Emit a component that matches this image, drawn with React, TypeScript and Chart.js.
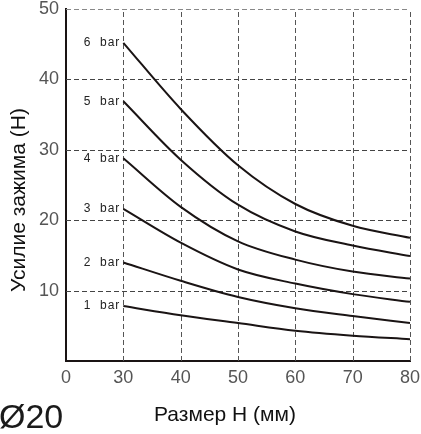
import React, { useEffect, useRef } from "react";
import { Chart, registerables } from "chart.js";

Chart.register(...registerables);

const sizes = [30, 40, 50, 60, 70, 80];
const xTicks = [20, 30, 40, 50, 60, 70, 80];
const xTickLabels = ["0", "30", "40", "50", "60", "70", "80"];
const yTicks = [10, 20, 30, 40, 50];
const bar6 = [45.2, 35.8, 27.8, 22.3, 19.2, 17.5];
const bar5 = [36.9, 28.6, 22.2, 18.4, 16.4, 14.9];
const bar4 = [28.8, 21.9, 17.0, 14.4, 12.7, 11.7];
const bar3 = [21.6, 16.8, 13.0, 11.0, 9.5, 8.4];
const bar2 = [14.0, 11.4, 9.1, 7.5, 6.4, 5.4];
const bar1 = [7.8, 6.5, 5.4, 4.3, 3.6, 3.1];
const seriesLabels = ["6  bar", "5  bar", "4  bar", "3  bar", "2  bar", "1  bar"];
const seriesValues = [bar6, bar5, bar4, bar3, bar2, bar1];
const xTitle = "Размер H (мм)";
const yTitle = "Усилие зажима (H)";
const caption = "Ø20";

const gridPlugin = {
  id: "gridPlugin",
  beforeDatasetsDraw(chart: any) {
    const ctx = chart.ctx;
    const xs = chart.scales.x;
    const ys = chart.scales.y;
    const a = chart.chartArea;
    ctx.save();
    ctx.lineWidth = 1;
    ctx.setLineDash([5, 3]);
    xTicks.slice(1).forEach((v) => {
      const px = Math.round(xs.getPixelForValue(v)) + 0.5;
      ctx.strokeStyle = "#555";
      ctx.beginPath();
      ctx.moveTo(px, a.bottom);
      ctx.lineTo(px, a.top);
      ctx.stroke();
    });
    yTicks.forEach((v) => {
      const py = Math.round(ys.getPixelForValue(v)) + 0.5;
      ctx.strokeStyle = v === 50 ? "#888" : "#444";
      ctx.beginPath();
      ctx.moveTo(a.left, py);
      ctx.lineTo(a.right, py);
      ctx.stroke();
    });
    ctx.restore();
  },
  afterDraw(chart: any) {
    const ctx = chart.ctx;
    const xs = chart.scales.x;
    const ys = chart.scales.y;
    ctx.save();
    ctx.fillStyle = "#222";
    ctx.font = "12px 'Liberation Sans', Arial, sans-serif";
    ctx.textAlign = "right";
    ctx.textBaseline = "middle";
    try { (ctx as any).letterSpacing = "1px"; } catch (e) {}
    chart.data.datasets.forEach((ds: any) => {
      const p = ds.data[0];
      ctx.fillText(ds.label, xs.getPixelForValue(p.x) - 3, ys.getPixelForValue(p.y));
    });
    try { (ctx as any).letterSpacing = "0px"; } catch (e) {}
    ctx.fillStyle = "#111";
    ctx.font = "21px 'Liberation Sans', Arial, sans-serif";
    ctx.textAlign = "center";
    ctx.textBaseline = "middle";
    ctx.save();
    ctx.translate(19, 200);
    ctx.rotate(-Math.PI / 2);
    ctx.fillText(yTitle, 0, 0);
    ctx.restore();
    ctx.fillText(xTitle, 225, 415);
    ctx.font = "34px 'Liberation Sans', Arial, sans-serif";
    ctx.textAlign = "left";
    ctx.textBaseline = "alphabetic";
    ctx.fillStyle = "#1a1a1a";
    ctx.fillText(caption, -1, 428);
    ctx.restore();
  },
};

export default function App() {
  const ref = useRef<HTMLCanvasElement>(null);
  useEffect(() => {
    document.body.style.margin = "0";
    const canvas = ref.current!;
    const tickFont = { family: "'Liberation Sans', Arial, sans-serif", size: 18 };
    const chart = new Chart(canvas, {
      type: "line",
      data: {
        datasets: seriesValues.map((vals, i) => ({
          label: seriesLabels[i],
          data: sizes.map((s, j) => ({ x: s, y: vals[j] })),
          borderColor: "#1a1414",
          borderWidth: 2,
          pointRadius: 0,
          fill: false,
          cubicInterpolationMode: "monotone" as const,
        })),
      },
      options: {
        animation: false,
        responsive: false,
        devicePixelRatio: 1,
        layout: { padding: { left: 0, right: 11, top: 9, bottom: 0 } },
        plugins: { legend: { display: false }, tooltip: { enabled: false } },
        scales: {
          x: {
            type: "linear",
            min: 20,
            max: 80,
            afterFit: (scale: any) => {
              scale.height = 73;
              scale.paddingLeft = 0;
              scale.paddingRight = 0;
            },
            ticks: {
              stepSize: 10,
              font: tickFont,
              color: "#555",
              padding: 6,
              maxRotation: 0,
              autoSkip: false,
              callback: (v: any) => {
                const i = xTicks.indexOf(Number(v));
                return i >= 0 ? xTickLabels[i] : "";
              },
            },
            grid: { display: false, drawTicks: false },
            border: { display: true, color: "#1a1414", width: 2 },
          },
          y: {
            type: "linear",
            min: 0,
            max: 50,
            afterFit: (scale: any) => {
              scale.width = 66;
              scale.paddingTop = 0;
              scale.paddingBottom = 0;
            },
            ticks: {
              stepSize: 10,
              font: tickFont,
              color: "#555",
              padding: 7,
              autoSkip: false,
              callback: (v: any) => (yTicks.indexOf(Number(v)) >= 0 ? String(v) : ""),
            },
            grid: { display: false, drawTicks: false },
            border: { display: true, color: "#1a1414", width: 2 },
          },
        },
      },
      plugins: [gridPlugin],
    });
    return () => chart.destroy();
  }, []);
  return <canvas ref={ref} width={421} height={434} style={{ display: "block" }} />;
}
